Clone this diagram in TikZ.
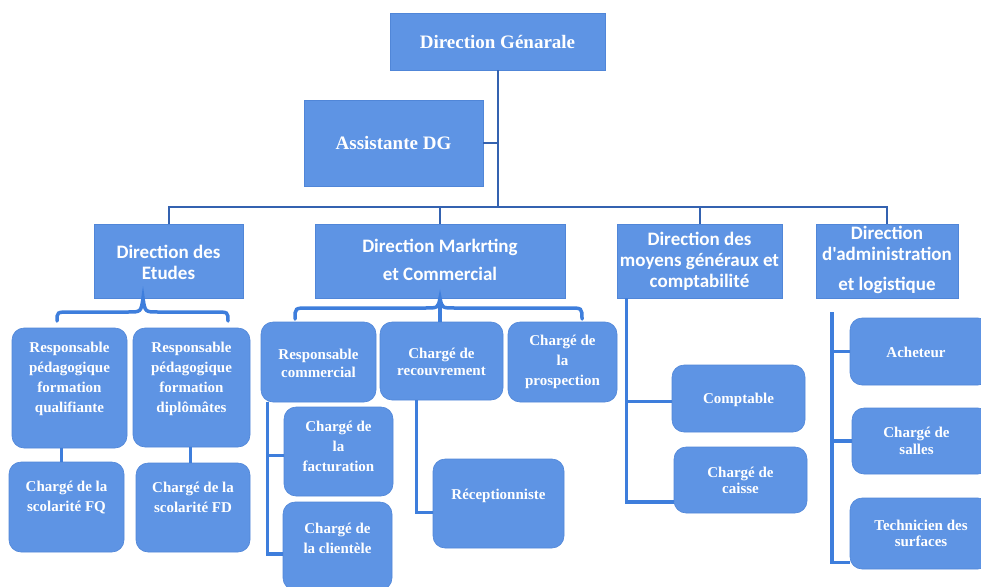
\documentclass[tikz,border=0pt]{standalone}
\usepackage{fontspec}
\usetikzlibrary{fit}
\newfontfamily\serifb{Liberation Serif}
\newfontfamily\calb{Carlito}
\definecolor{boxblue}{RGB}{94,148,228}
\definecolor{boxedge}{RGB}{80,134,216}
\definecolor{lineblue}{RGB}{62,126,220}
\definecolor{linedark}{RGB}{52,98,176}
\tikzset{
  hdr/.style={fill=boxblue, draw=boxedge, line width=0.6pt, inner sep=0pt},
  card/.style={fill=boxblue, draw=boxedge, line width=0.6pt, rounded corners=12pt, inner sep=0pt},
  sertxt/.style={text=white, align=center, inner sep=0pt,
    font=\serifb\bfseries\fontsize{15}{20}\selectfont},
  bigser/.style={text=white, align=center, inner sep=0pt,
    font=\serifb\bfseries\fontsize{19}{22}\selectfont},
  santxt/.style={text=white, align=center, inner sep=0pt,
    font=\calb\bfseries\fontsize{19}{21}\selectfont},
  topline/.style={draw=linedark, line width=2pt},
  link/.style={draw=lineblue, line width=3.5pt},
}
\begin{document}
\begin{tikzpicture}[x=1pt,y=-1pt]
\useasboundingbox (0,0) rectangle (981,586);

% --- top level -------------------------------------------------
\node[hdr, fit={(390,13)(605,70)}] (dg) {};
\node[bigser] (dg-t) at (497.5,41.5) {Direction Génarale};
\node[hdr, fit={(304,100)(483,186)}] (adg) {};
\node[bigser] (adg-t) at (393.5,143) {Assistante DG};

% --- directions ------------------------------------------------
\node[hdr, fit={(94,224)(243,298)}] (de) {};
\node[santxt] (de-t) at (168.5,262) {Direction des\\Etudes};
\node[hdr, fit={(315,224)(565,298)}] (dm) {};
\node[santxt] (dm-t) at (440,260) {Direction Markrting\\[7pt]et Commercial};
\node[hdr, fit={(617,224)(782,298)}] (dmg) {};
\node[santxt] (dmg-t) at (699.5,261.5) {Direction des\\moyens généraux et\\comptabilité};
\node[hdr, fit={(816,224)(958,298)}] (dal) {};
\node[santxt] (dal-t) at (887,260) {Direction\\d'administration\\[9pt]et logistique};

% --- Direction des Etudes --------------------------------------
\node[card, fit={(12,328)(127,448)}] (fq) {};
\node[sertxt] (fq-t) at (69.5,379) {Responsable\\pédagogique\\formation\\qualifiante};
\node[card, fit={(133,328)(250,447)}] (fd) {};
\node[sertxt] (fd-t) at (191.5,379) {Responsable\\pédagogique\\formation\\diplômâtes};
\node[card, fit={(9,462)(124,552)}] (cfq) {};
\node[sertxt] (cfq-t) at (66.5,497) {Chargé de la\\scolarité FQ};
\node[card, fit={(136,463)(250,552)}] (cfd) {};
\node[sertxt] (cfd-t) at (193,497) {Chargé de la\\scolarité FD};

% --- Direction Marketing ---------------------------------------
\node[card, fit={(261,322)(376,402)}] (rc) {};
\node[sertxt, font=\serifb\bfseries\fontsize{15}{18}\selectfont] (rc-t) at (318.5,363) {Responsable\\commercial};
\node[card, fit={(380,322)(503,400)}] (rec) {};
\node[sertxt, font=\serifb\bfseries\fontsize{15}{17}\selectfont] (rec-t) at (441.5,361.5) {Chargé de\\recouvrement};
\node[card, fit={(508,322)(617,402)}] (pro) {};
\node[sertxt] (pro-t) at (562.5,361.5) {Chargé de\\la\\prospection};
\node[card, fit={(284,407)(393,496)}] (fac) {};
\node[sertxt] (fac-t) at (338.5,446) {Chargé de\\la\\facturation};
\node[card, fit={(283,502)(392,590)}] (cli) {};
\node[sertxt] (cli-t) at (337.5,538) {Chargé de\\la clientèle};
\node[card, fit={(433,459)(564,548)}] (rcp) {};
\node[sertxt] (rcp-t) at (498.5,496) {Réceptionniste};

% --- Direction des moyens generaux -----------------------------
\node[card, fit={(672,365)(805,432)}] (cpt) {};
\node[sertxt] (cpt-t) at (738.5,400) {Comptable};
\node[card, fit={(674,447)(807,513)}] (cai) {};
\node[sertxt, font=\serifb\bfseries\fontsize{15}{16}\selectfont] (cai-t) at (740.5,480) {Chargé de\\caisse};

% --- Direction d'administration --------------------------------
\node[card, fit={(850,318)(990,385)}] (ach) {};
\node[sertxt] (ach-t) at (916,352) {Acheteur};
\node[card, fit={(852,408)(990,474)}] (sal) {};
\node[sertxt, font=\serifb\bfseries\fontsize{15}{17}\selectfont] (sal-t) at (916.5,441) {Chargé de\\salles};
\node[card, fit={(850,498)(990,569)}] (tec) {};
\node[sertxt, font=\serifb\bfseries\fontsize{15}{16}\selectfont] (tec-t) at (921,533) {Technicien des\\surfaces};

% --- upper connectors ------------------------------------------
\coordinate (bus) at (0,207);
\draw[topline] (dg.south) -- (dg.south |- bus);
\draw[topline] (adg.east) -- (adg.east -| dg.south);
\draw[topline] (de.north) -- (de.north |- bus) -- (dal.north |- bus) -- (dal.north);
\draw[topline] (dm.north) -- (dm.north |- bus);
\draw[topline] (dmg.north) -- (dmg.north |- bus);

% --- braces under the first two directions --------------------
\coordinate (deb) at (143,298);
\draw[link, line cap=round]
  (57,321) .. controls (57,312) .. (70,312) -- (128,312)
  .. controls (141,312) .. (deb)
  .. controls (145,312) .. (158,312) -- (215,312)
  .. controls (228,312) .. (228,321);
\coordinate (dmb) at (440,298);
\draw[link, line cap=round]
  (295,319) .. controls (295,308) .. (308,308) -- (425,308)
  .. controls (438,308) .. (dmb)
  .. controls (442,308) .. (455,308) -- (569,308)
  .. controls (582,308) .. (582,319);
\draw[link] (dm.south) -- (dm.south |- rec.north);

% --- lower connectors ------------------------------------------
\draw[link] ([xshift=-8pt]fq.south) -- ([xshift=-8pt]fq.south |- cfq.north);
\draw[link] ([xshift=-1pt]fd.south) -- ([xshift=-1pt]fd.south |- cfd.north);

\coordinate (rcs) at ([xshift=7pt]rc.south west);
\coordinate (clt) at ([yshift=-8pt]cli.west);
\coordinate (fat) at ([yshift=-4pt]fac.west);
\draw[link] (rcs) -- (rcs |- clt) -- (clt);
\draw[link] (rcs |- fat) -- (fat);

\coordinate (recs) at ([xshift=-25pt]rec.south);
\coordinate (rct) at ([yshift=-9pt]rcp.west);
\draw[link] (recs) -- (recs |- rct) -- (rct);

\coordinate (mgs) at ([xshift=10pt]dmg.south west);
\coordinate (cpt-a) at ([yshift=-3pt]cpt.west);
\coordinate (cai-a) at ([yshift=-22pt]cai.west);
\draw[link] (mgs) -- (mgs |- cai-a) -- (cai-a);
\draw[link] (mgs |- cpt-a) -- (cpt-a);

\coordinate (als) at (832,312);
\coordinate (tec-a) at ([yshift=-29pt]tec.west);
\draw[link] (als) -- (als |- tec-a) -- (tec-a);
\draw[link] (als |- ach.west) -- (ach.west);
\draw[link] (als |- sal.west) -- (sal.west);
\end{tikzpicture}
\end{document}
